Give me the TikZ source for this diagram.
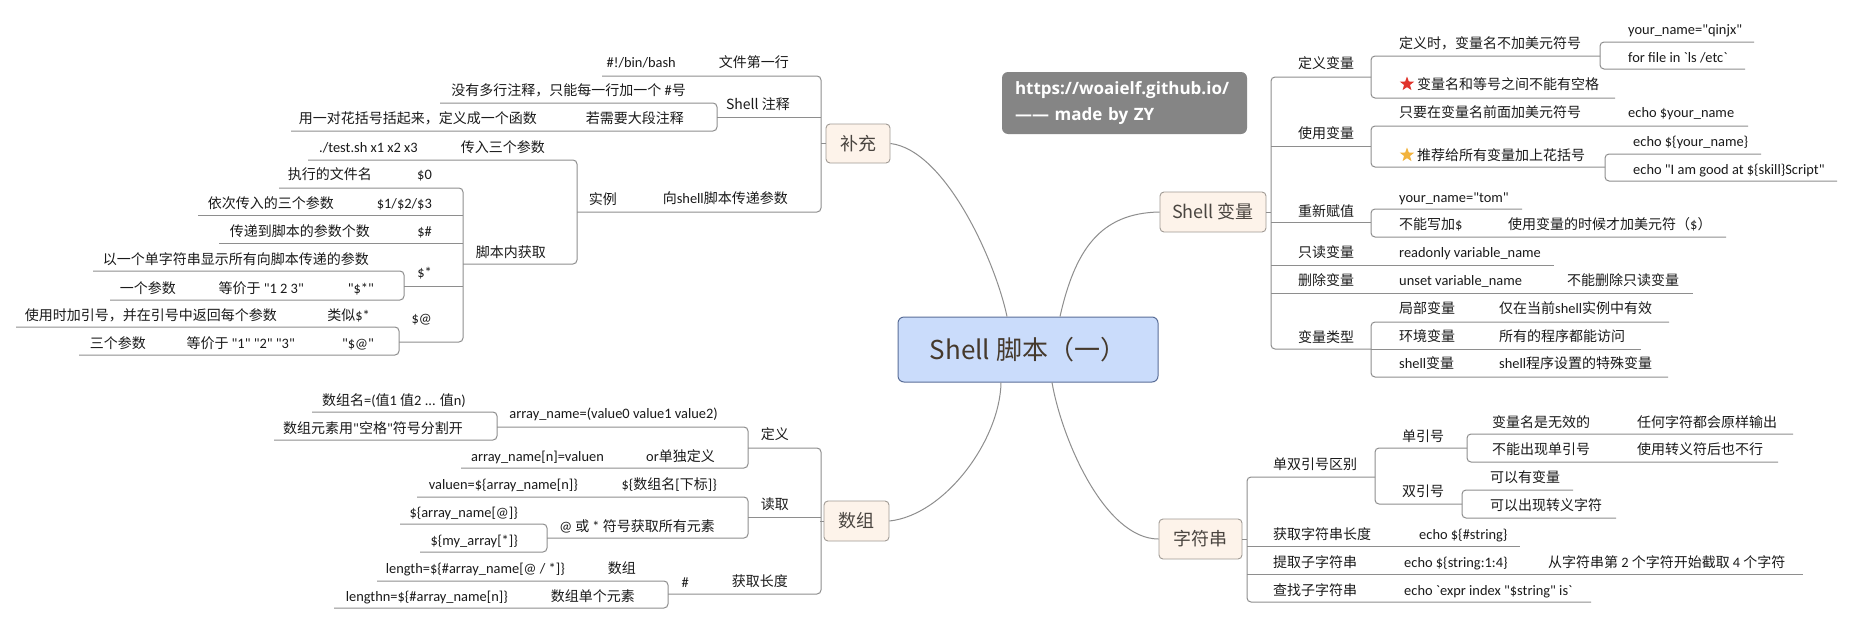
\documentclass[tikz,border=0pt]{standalone}
\usepackage{fontspec}
\setmainfont{Noto Sans CJK SC}
\newfontfamily\cjkf{Noto Sans CJK SC}
\newfontfamily\latf{Carlito}[Scale=1.03]
\newfontfamily\urlf{Open Sans}
\usetikzlibrary{shapes.geometric}
\definecolor{lineg}{HTML}{8E8E8E}
\definecolor{txt}{HTML}{1A1A1A}
\definecolor{secfill}{HTML}{FDF3EA}
\definecolor{secdraw}{HTML}{A09A94}
\definecolor{sectext}{HTML}{4A4540}
\definecolor{cfill}{HTML}{CADCFB}
\definecolor{cdraw}{HTML}{5A6E98}
\definecolor{ctext}{HTML}{45392C}
\definecolor{urlfill}{HTML}{858585}
\definecolor{starred}{HTML}{E0342C}
\definecolor{stargold}{HTML}{F2B33D}
\newcommand\txtL[4]{\node[lf,anchor=base west] (#1) at (#2,{#3+5}) {#4};}
\newcommand\txtR[4]{\node[lf,anchor=base east] (#1) at (#2,{#3+5}) {#4};}
\begin{document}
\begin{tikzpicture}[x=1pt,y=-1pt,
  lf/.style={inner sep=0pt,font=\cjkf\fontsize{14}{16}\selectfont,text=txt},
  ln/.style={draw=lineg,line width=1pt,rounded corners=4pt},
  crv/.style={draw=lineg,line width=1pt},
  sec/.style={draw=secdraw,fill=secfill,rounded corners=4pt,line width=0.9pt,inner sep=0pt,font=\cjkf\fontsize{18}{20}\selectfont,text=sectext},
  cn/.style={draw=cdraw,fill=cfill,rounded corners=6pt,line width=1pt,inner sep=0pt,minimum width=260,minimum height=65,font=\cjkf\fontsize{26}{28}\selectfont,text=ctext},
  urlbox/.style={fill=urlfill,rounded corners=6pt,inner xsep=13pt,inner ysep=0pt,minimum width=245,minimum height=62,text width=219,align=left,font=\urlf\bfseries\fontsize{17}{26}\selectfont,text=white},
  icon/.style={star,star points=5,star point ratio=2.4,inner sep=0pt,minimum size=15pt}
]
\fill[white] (0,0) rectangle (1854,624);
\useasboundingbox (0,0) rectangle (1854,624);

% ---------- main nodes ----------
\node[cn] (c) at (1028,349.5) {Shell 脚本（一）};
\node[sec,minimum width=64,minimum height=39] (bc) at (858,143.5) {补充};
\node[sec,minimum width=65,minimum height=40] (dz) at (856.5,521) {数组};
\node[sec,minimum width=106,minimum height=40] (sv) at (1213,212) {Shell 变量};
\node[sec,minimum width=83,minimum height=40] (zf) at (1200.5,539) {字符串};
\node[urlbox] (url) at (1124.5,103) {https://woaielf.github.io/\\—— made by ZY};

% ---------- curves from centre ----------
\draw[crv] (bc.east) .. controls (945,150) and (995,260) .. ([xshift=-21pt]c.north);
\draw[crv] (dz.east) .. controls (945,515) and (1000,440) .. ([xshift=-27pt]c.south);
\draw[crv] ([xshift=32pt]c.north) .. controls (1075,250) and (1100,213) .. (sv.west);
\draw[crv] ([xshift=24pt]c.south) .. controls (1062,440) and (1105,539) .. (zf.west);

% ---------- 补充 branch lines ----------
\draw[ln] (bc.west) -- ++(-5,0);
\draw[ln] (602,76) -- (821,76) -- (821,212) -- (577,212);
\draw[ln] (717,117) -- (821,117);
\draw[ln] (440,103) -- (717,103) -- (717,131) -- (291,131);
\draw[ln] (308,160) -- (577,160) -- (577,264) -- (463,264);
\draw[ln] (279,188) -- (463,188) -- (463,342) -- (399,342);
\draw[ln] (198,215) -- (463,215);
\draw[ln] (219,243) -- (463,243);
\draw[ln] (404,286) -- (463,286);
\draw[ln] (93,271) -- (404,271) -- (404,300) -- (110,300);
\draw[ln] (16,327) -- (399,327) -- (399,355) -- (79,355);

\txtR{t1}{676}{62}{\latf \#!/bin/bash}
\txtR{t2}{789}{62}{文件第一行}
\txtR{t3}{790}{104}{Shell 注释}
\txtR{t4}{686}{90}{没有多行注释，只能每一行加一个 {\latf\#}号}
\txtR{t5}{684}{118}{若需要大段注释}
\txtR{t6}{537}{118}{用一对花括号括起来，定义成一个函数}
\txtR{t7}{788}{198}{向{\latf shell}脚本传递参数}
\txtR{t8}{617}{199}{实例}
\txtR{t9}{545}{147}{传入三个参数}
\txtR{t10}{418}{147}{\latf ./test.sh x1 x2 x3}
\txtR{t11}{546}{252}{脚本内获取}
\txtR{t12}{432}{174}{\latf \$0}
\txtR{t13}{372}{174}{执行的文件名}
\txtR{t14}{432}{203}{\latf \$1/\$2/\$3}
\txtR{t15}{334}{203}{依次传入的三个参数}
\txtR{t16}{432}{231}{\latf \$\#}
\txtR{t17}{370}{231}{传递到脚本的参数个数}
\txtR{t18}{432}{272}{\latf \$*}
\txtR{t19}{369}{259}{以一个单字符串显示所有向脚本传递的参数}
\txtR{t20}{374}{288}{\latf "\$*"}
\txtR{t21}{304}{288}{等价于 {\latf "1 2 3"}}
\txtR{t22}{176}{288}{一个参数}
\txtR{t23}{432}{318}{\latf \$@}
\txtR{t24}{370}{315}{类似{\latf\$*}}
\txtR{t25}{277}{315}{使用时加引号，并在引号中返回每个参数}
\txtR{t26}{374}{343}{\latf "\$@"}
\txtR{t27}{295}{343}{等价于 {\latf "1" "2" "3"}}
\txtR{t28}{146}{343}{三个参数}

% ---------- 数组 branch ----------
\draw[ln] (dz.west) -- ++(-3.5,0);
\draw[ln] (748,448) -- (821,448) -- (821,594) -- (668,594);
\draw[ln] (748,517) -- (821,517);
\draw[ln] (497,427) -- (748,427) -- (748,468) -- (461,468);
\draw[ln] (312,412) -- (497,412) -- (497,440) -- (274,440);
\draw[ln] (417,497) -- (748,497) -- (748,538) -- (547,538);
\draw[ln] (400,524) -- (547,524) -- (547,552) -- (420,552);
\draw[ln] (377,581) -- (668,581) -- (668,608) -- (334,608);

\txtR{a1}{789}{434}{定义}
\txtR{a2}{718}{413}{\latf array\_name=(value0 value1 value2)}
\txtR{a3}{466}{400}{数组名{\latf =(}值{\latf 1} 值{\latf 2 ...} 值{\latf n)}}
\txtR{a4}{463}{428}{数组元素用{\latf "}空格{\latf "}符号分割开}
\txtR{a5}{715}{456}{{\latf or}单独定义}
\txtR{a6}{604}{456}{\latf array\_name[n]=valuen}
\txtR{a7}{789}{504}{读取}
\txtR{a8}{717}{484}{{\latf \$\{}数组名{\latf [}下标{\latf ]\}}}
\txtR{a9}{578}{484}{\latf valuen=\$\{array\_name[n]\}}
\txtR{a10}{715}{526}{{\latf @} 或 {\latf *} 符号获取所有元素}
\txtR{a11}{518}{512}{\latf \$\{array\_name[@]\}}
\txtR{a12}{518}{540}{\latf \$\{my\_array[*]\}}
\txtR{a13}{788}{581}{获取长度}
\txtR{a14}{689}{582}{\latf \#}
\txtR{a15}{636}{568}{数组}
\txtR{a16}{565}{568}{\latf length=\$\{\#array\_name[@ / *]\}}
\txtR{a17}{635}{596}{数组单个元素}
\txtR{a18}{508}{596}{\latf lengthn=\$\{\#array\_name[n]\}}

% ---------- Shell 变量 branch ----------
\draw[ln] (sv.east) -- ++(5,0);
\draw[ln] (1371,77) -- (1271,77) -- (1271,349) -- (1371,349);
\draw[ln] (1271,146) -- (1371,146);
\draw[ln] (1271,222) -- (1371,222);
\draw[ln] (1271,265) -- (1554,265);
\draw[ln] (1271,293) -- (1693,293);
\draw[ln] (1600,56) -- (1371,56) -- (1371,98) -- (1615,98);
\draw[ln] (1754,42) -- (1600,42) -- (1600,69) -- (1745,69);
\draw[ln] (1748,126) -- (1371,126) -- (1371,167) -- (1605,167);
\draw[ln] (1761,154) -- (1605,154) -- (1605,181) -- (1837,181);
\draw[ln] (1522,209) -- (1371,209) -- (1371,237) -- (1726,237);
\draw[ln] (1669,322) -- (1371,322) -- (1371,377) -- (1668,377);
\draw[ln] (1371,349) -- (1641,349);

\txtL{v1}{1298}{63}{定义变量}
\txtL{v2}{1399}{43}{定义时，变量名不加美元符号}
\txtL{v3}{1628}{29}{\latf your\_name="qinjx"}
\txtL{v4}{1628}{57}{\latf for file in `ls /etc`}
\node[icon,fill=starred] (s1) at (1407,84) {};
\txtL{v5}{1417}{84}{变量名和等号之间不能有空格}
\txtL{v6}{1298}{133}{使用变量}
\txtL{v7}{1399}{112}{只要在变量名前面加美元符号}
\txtL{v8}{1628}{112}{\latf echo \$your\_name}
\node[icon,fill=stargold] (s2) at (1407,155) {};
\txtL{v9}{1417}{155}{推荐给所有变量加上花括号}
\txtL{v10}{1633}{141}{\latf echo \$\{your\_name\}}
\txtL{v11}{1633}{169}{\latf echo "I am good at \$\{skill\}Script"}
\txtL{v12}{1298}{211}{重新赋值}
\txtL{v13}{1399}{197}{\latf your\_name="tom"}
\txtL{v14}{1399}{224}{不能写加{\latf\$}}
\txtL{v15}{1508}{224}{使用变量的时候才加美元符（{\latf\$}）}
\txtL{v16}{1298}{252}{只读变量}
\txtL{v17}{1399}{252}{\latf readonly variable\_name}
\txtL{v18}{1298}{280}{删除变量}
\txtL{v19}{1399}{280}{\latf unset variable\_name}
\txtL{v20}{1567}{280}{不能删除只读变量}
\txtL{v21}{1298}{337}{变量类型}
\txtL{v22}{1399}{308}{局部变量}
\txtL{v23}{1499}{308}{仅在当前{\latf shell}实例中有效}
\txtL{v24}{1399}{336}{环境变量}
\txtL{v25}{1499}{336}{所有的程序都能访问}
\txtL{v26}{1399}{363}{{\latf shell}变量}
\txtL{v27}{1499}{363}{{\latf shell}程序设置的特殊变量}

% ---------- 字符串 branch ----------
\draw[ln] (zf.east) -- ++(5,0);
\draw[ln] (1375,477) -- (1247,477) -- (1247,602) -- (1591,602);
\draw[ln] (1247,546) -- (1520,546);
\draw[ln] (1247,574) -- (1803,574);
\draw[ln] (1467,448) -- (1375,448) -- (1375,504) -- (1462,504);
\draw[ln] (1793,434) -- (1467,434) -- (1467,462) -- (1778,462);
\draw[ln] (1573,490) -- (1462,490) -- (1462,518) -- (1616,518);

\txtL{z1}{1273}{464}{单双引号区别}
\txtL{z2}{1402}{436}{单引号}
\txtL{z3}{1492}{422}{变量名是无效的}
\txtL{z4}{1637}{422}{任何字符都会原样输出}
\txtL{z5}{1492}{449}{不能出现单引号}
\txtL{z6}{1637}{449}{使用转义符后也不行}
\txtL{z7}{1402}{491}{双引号}
\txtL{z8}{1490}{477}{可以有变量}
\txtL{z9}{1490}{505}{可以出现转义字符}
\txtL{z10}{1273}{534}{获取字符串长度}
\txtL{z11}{1419}{534}{\latf echo \$\{\#string\}}
\txtL{z12}{1273}{562}{提取子字符串}
\txtL{z13}{1404}{562}{\latf echo \$\{string:1:4\}}
\txtL{z14}{1548}{562}{从字符串第 {\latf 2} 个字符开始截取 {\latf 4} 个字符}
\txtL{z15}{1273}{590}{查找子字符串}
\txtL{z16}{1404}{590}{\latf echo `expr index "\$string" is`}
\end{tikzpicture}
\end{document}
